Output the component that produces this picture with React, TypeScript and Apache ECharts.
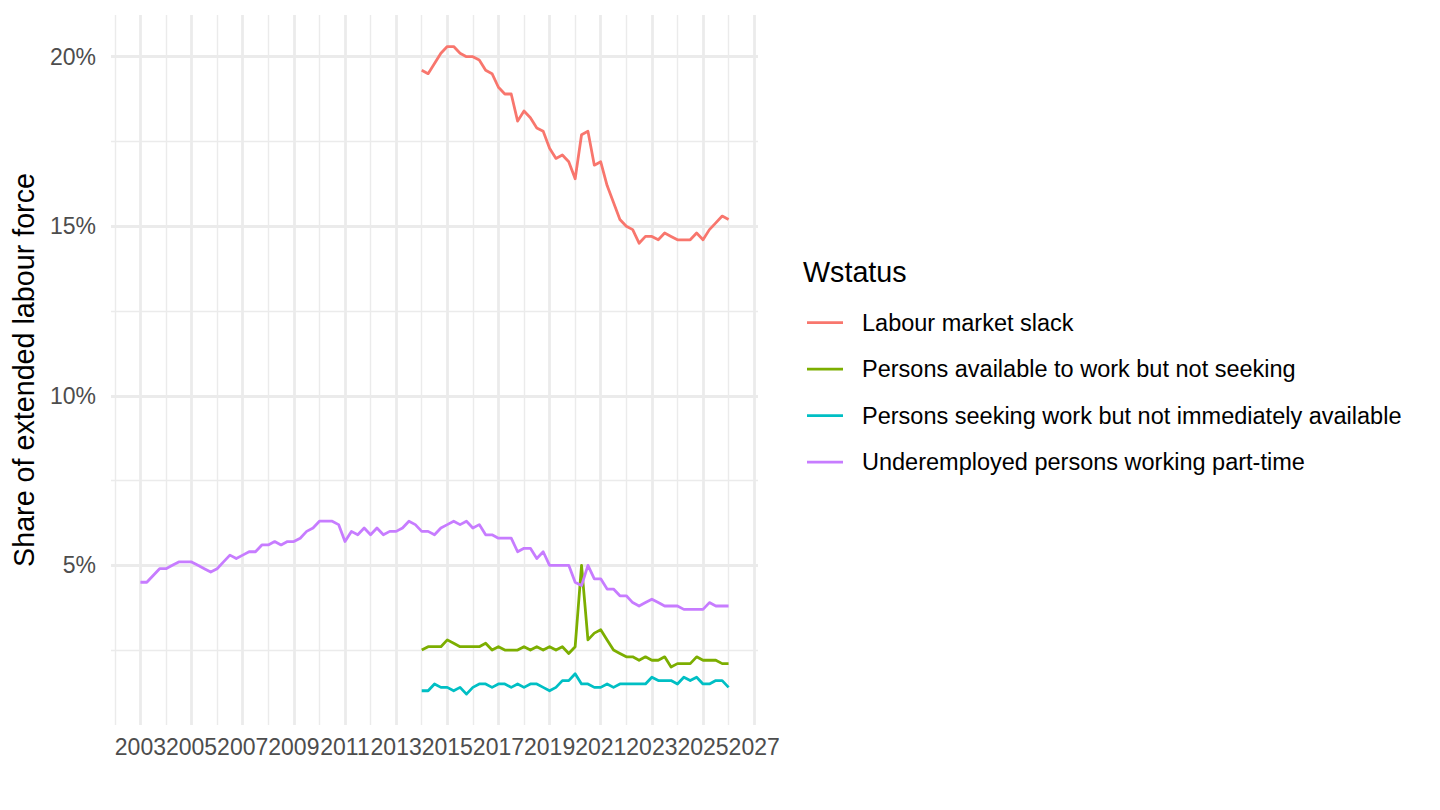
import React, { useEffect, useRef } from "react";
import * as echarts from "echarts";

const FONT = "'Liberation Sans', Arial, Helvetica, sans-serif";

const SERIES_NAMES = [
  "Labour market slack",
  "Persons available to work but not seeking",
  "Persons seeking work but not immediately available",
  "Underemployed persons working part-time",
];
const SERIES_COLORS = ["#F8766D", "#7CAE00", "#00BFC4", "#C77CFF"];

// first quarter (as decimal year) of each series; data are quarterly
const UNDEREMPLOYED_START = 2003;
const SLACK_START = 2014;

const labourMarketSlack = [
  19.6, 19.5, 19.8, 20.1, 20.3, 20.3, 20.1, 20.0, 20.0, 19.9,
  19.6, 19.5, 19.1, 18.9, 18.9, 18.1, 18.4, 18.2, 17.9, 17.8,
  17.3, 17.0, 17.1, 16.9, 16.4, 17.7, 17.8, 16.8, 16.9, 16.2,
  15.7, 15.2, 15.0, 14.9, 14.5, 14.7, 14.7, 14.6, 14.8, 14.7,
  14.6, 14.6, 14.6, 14.8, 14.6, 14.9, 15.1, 15.3, 15.2,
];

const availableNotSeeking = [
  2.5, 2.6, 2.6, 2.6, 2.8, 2.7, 2.6, 2.6, 2.6, 2.6,
  2.7, 2.5, 2.6, 2.5, 2.5, 2.5, 2.6, 2.5, 2.6, 2.5,
  2.6, 2.5, 2.6, 2.4, 2.6, 5.0, 2.8, 3.0, 3.1, 2.8,
  2.5, 2.4, 2.3, 2.3, 2.2, 2.3, 2.2, 2.2, 2.3, 2.0,
  2.1, 2.1, 2.1, 2.3, 2.2, 2.2, 2.2, 2.1, 2.1,
];

const seekingNotAvailable = [
  1.3, 1.3, 1.5, 1.4, 1.4, 1.3, 1.4, 1.2, 1.4, 1.5,
  1.5, 1.4, 1.5, 1.5, 1.4, 1.5, 1.4, 1.5, 1.5, 1.4,
  1.3, 1.4, 1.6, 1.6, 1.8, 1.5, 1.5, 1.4, 1.4, 1.5,
  1.4, 1.5, 1.5, 1.5, 1.5, 1.5, 1.7, 1.6, 1.6, 1.6,
  1.5, 1.7, 1.6, 1.7, 1.5, 1.5, 1.6, 1.6, 1.4,
];

const underemployed = [
  4.5, 4.5, 4.7, 4.9, 4.9, 5.0, 5.1, 5.1, 5.1, 5.0,
  4.9, 4.8, 4.9, 5.1, 5.3, 5.2, 5.3, 5.4, 5.4, 5.6,
  5.6, 5.7, 5.6, 5.7, 5.7, 5.8, 6.0, 6.1, 6.3, 6.3,
  6.3, 6.2, 5.7, 6.0, 5.9, 6.1, 5.9, 6.1, 5.9, 6.0,
  6.0, 6.1, 6.3, 6.2,
  6.0, 6.0, 5.9, 6.1, 6.2, 6.3, 6.2, 6.3, 6.1, 6.2,
  5.9, 5.9, 5.8, 5.8, 5.8, 5.4, 5.5, 5.5, 5.2, 5.4,
  5.0, 5.0, 5.0, 5.0, 4.5, 4.4, 5.0, 4.6, 4.6, 4.3,
  4.3, 4.1, 4.1, 3.9, 3.8, 3.9, 4.0, 3.9, 3.8, 3.8,
  3.8, 3.7, 3.7, 3.7, 3.7, 3.9, 3.8, 3.8, 3.8,
];

const X_MAJOR_TICKS = [2003, 2005, 2007, 2009, 2011, 2013, 2015, 2017, 2019, 2021, 2023, 2025, 2027];
const X_MINOR_TICKS = [2002, 2004, 2006, 2008, 2010, 2012, 2014, 2016, 2018, 2020, 2022, 2024, 2026];
const Y_MAJOR_TICKS = [5, 10, 15, 20];
const Y_MINOR_TICKS = [2.5, 7.5, 12.5, 17.5];

const X_MIN = 2001.85;
const X_MAX = 2027.15;
const Y_MIN = 0.29;
const Y_MAX = 21.23;

function quarterly(start: number, values: number[]) {
  return values.map((v, i) => [start + i * 0.25, v]);
}

export default function App() {
  const ref = useRef<HTMLDivElement>(null);

  useEffect(() => {
    if (!ref.current) return;
    const chart = echarts.init(ref.current, undefined, { renderer: "svg" });

    const seriesData = [
      quarterly(SLACK_START, labourMarketSlack),
      quarterly(SLACK_START, availableNotSeeking),
      quarterly(SLACK_START, seekingNotAvailable),
      quarterly(UNDEREMPLOYED_START, underemployed),
    ];

    const grid = "#EBEBEB";
    const majorW = 2.78;
    const minorW = 1.39;

    const option: any = {
      animation: false,
      backgroundColor: "#FFFFFF",
      textStyle: { fontFamily: FONT },
      grid: { left: 111, top: 15, width: 647, height: 710, containLabel: false },
      xAxis: [
        {
          type: "value",
          min: X_MIN,
          max: X_MAX,
          position: "bottom",
          axisLine: { show: false },
          axisTick: { show: false, customValues: X_MAJOR_TICKS },
          axisLabel: {
            customValues: X_MAJOR_TICKS,
            fontSize: 23,
            color: "#4D4D4D",
            margin: 10,
            fontFamily: FONT,
            formatter: (v: number) => String(v),
          },
          splitLine: { show: true, lineStyle: { color: grid, width: majorW } },
        },
        {
          type: "value",
          min: X_MIN,
          max: X_MAX,
          position: "bottom",
          axisLine: { show: false },
          axisTick: { show: false, customValues: X_MINOR_TICKS },
          axisLabel: { show: false, customValues: X_MINOR_TICKS },
          splitLine: { show: true, lineStyle: { color: grid, width: minorW } },
        },
      ],
      yAxis: [
        {
          type: "value",
          min: Y_MIN,
          max: Y_MAX,
          position: "left",
          axisLine: { show: false },
          axisTick: { show: false, customValues: Y_MAJOR_TICKS },
          axisLabel: {
            customValues: Y_MAJOR_TICKS,
            fontSize: 23,
            color: "#4D4D4D",
            margin: 15,
            fontFamily: FONT,
            formatter: (v: number) => v + "%",
          },
          splitLine: { show: true, lineStyle: { color: grid, width: majorW } },
        },
        {
          type: "value",
          min: Y_MIN,
          max: Y_MAX,
          position: "left",
          axisLine: { show: false },
          axisTick: { show: false, customValues: Y_MINOR_TICKS },
          axisLabel: { show: false, customValues: Y_MINOR_TICKS },
          splitLine: { show: true, lineStyle: { color: grid, width: minorW } },
        },
      ],
      legend: {
        orient: "vertical",
        left: 807,
        top: 310.7,
        padding: 0,
        itemWidth: 36,
        itemHeight: 2.7,
        itemGap: 22.5,
        icon: "rect",
        selectedMode: false,
        data: SERIES_NAMES,
        textStyle: {
          fontSize: 23.5,
          lineHeight: 23,
          color: "#000000",
          fontFamily: FONT,
          padding: [0, 0, 0, 14],
        },
      },
      graphic: [
        {
          type: "text",
          x: 24,
          y: 370,
          rotation: Math.PI / 2,
          style: {
            text: "Share of extended labour force",
            fontSize: 28.7,
            fontFamily: FONT,
            fill: "#000000",
            align: "center",
            textAlign: "center",
            verticalAlign: "middle",
            textVerticalAlign: "middle",
          },
        },
        {
          type: "text",
          x: 803,
          y: 272,
          style: {
            text: "Wstatus",
            fontSize: 28.7,
            fontFamily: FONT,
            fill: "#000000",
            align: "left",
            textAlign: "left",
            verticalAlign: "middle",
            textVerticalAlign: "middle",
          },
        },
      ],
      series: SERIES_NAMES.map((name, i) => ({
        name,
        type: "line",
        xAxisIndex: 0,
        yAxisIndex: 0,
        data: seriesData[i],
        showSymbol: false,
        symbol: "none",
        silent: true,
        lineStyle: { color: SERIES_COLORS[i], width: 2.78, join: "round", cap: "butt" },
        itemStyle: { color: SERIES_COLORS[i] },
        z: 2 + i,
      })),
    };

    chart.setOption(option);
    return () => chart.dispose();
  }, []);

  return (
    <div
      ref={ref}
      style={{ position: "fixed", left: 0, top: 0, width: 1440, height: 810, background: "#fff" }}
    />
  );
}
